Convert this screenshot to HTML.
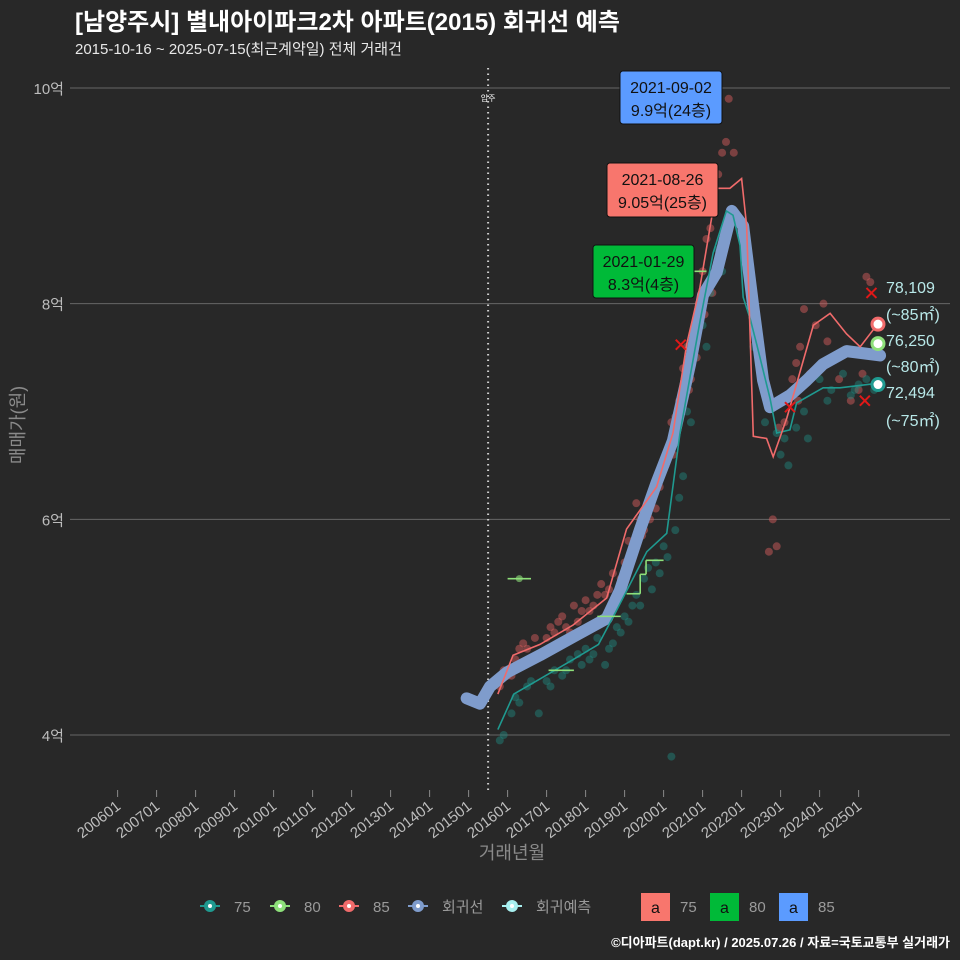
<!DOCTYPE html>
<html><head><meta charset="utf-8">
<style>
html,body{margin:0;padding:0;background:#282828;}
svg{display:block;font-family:"Liberation Sans","Noto Sans CJK KR",sans-serif;}
</style></head>
<body>
<svg id="chart" width="960" height="960" viewBox="0 0 960 960">
<rect x="0" y="0" width="960" height="960" fill="#282828"/>
<text x="75" y="30" font-size="24" font-weight="bold" fill="#ffffff">[남양주시] 별내아이파크2차 아파트(2015) 회귀선 예측</text>
<text x="75" y="54" font-size="15" fill="#e8e8e8">2015-10-16 ~ 2025-07-15(최근계약일) 전체 거래건</text>
<g id="grid"></g>
<g id="xaxis"></g>
<g id="marks"></g>
<text x="24" y="425" font-size="18" fill="#8a8a8a" text-anchor="middle" transform="rotate(-90 24 425)">매매가(원)</text>
<text x="512" y="859" font-size="18" fill="#8a8a8a" text-anchor="middle">거래년월</text>
<g id="legend"></g>
<text x="950" y="947" font-size="13" font-weight="bold" fill="#ffffff" text-anchor="end">©디아파트(dapt.kr) / 2025.07.26 / 자료=국토교통부 실거래가</text>
</svg>
<script>
// ---- data (values in 억) ----
const yTicks = [4, 6, 8, 10];
const yTickLabels = ["4억", "6억", "8억", "10억"];
const xTickYears = [2006,2007,2008,2009,2010,2011,2012,2013,2014,2015,2016,2017,2018,2019,2020,2021,2022,2023,2024,2025];
const xTickLabels = ["200601","200701","200801","200901","201001","201101","201201","201301","201401","201501","201601","201701","201801","201901","202001","202101","202201","202301","202401","202501"];
const moveInYear = 2015.5;

const regT = [2014.95,2015.29,2015.55,2015.98,2016.83,2017.68,2018.54,2018.88,2019.40,2019.82,2020.24,2020.68,2021.01,2021.36,2021.75,2022.04,2022.29,2022.55,2022.73,2023.24,2023.67,2024.09,2024.69,2025.55];
const regV = [4.34,4.29,4.45,4.58,4.74,4.91,5.08,5.34,5.91,6.34,6.73,7.44,8.08,8.29,8.86,8.72,8.00,7.29,7.04,7.15,7.29,7.44,7.56,7.52];

const redT = [2015.75,2016.14,2016.83,2017.68,2018.54,2019.05,2019.82,2020.24,2020.59,2020.93,2021.36,2021.70,2022.00,2022.13,2022.30,2022.64,2022.81,2023.16,2023.50,2023.84,2024.27,2024.69,2025.04,2025.38,2025.48];
const redV = [4.38,4.74,4.84,5.02,5.27,5.91,6.30,6.80,7.62,8.15,9.07,9.07,9.16,8.72,6.77,6.75,6.58,6.94,7.37,7.80,7.91,7.72,7.60,7.76,7.81];

const tealT = [2015.75,2016.16,2016.83,2017.68,2018.33,2018.80,2019.57,2020.08,2020.42,2020.93,2021.27,2021.61,2021.78,2021.96,2022.04,2022.22,2022.39,2022.73,2022.90,2023.24,2023.41,2024.09,2024.52,2025.46];
const tealV = [4.05,4.38,4.52,4.70,4.84,5.16,5.70,5.87,6.80,7.83,8.47,8.86,8.82,8.54,8.06,7.86,7.62,7.12,6.80,6.83,7.08,7.22,7.22,7.26];

const greenStart = [2016.0,2017.05,2018.3,2019.05,2019.4,2019.55,2020.65];
const greenEnd   = [2016.6,2017.7,2018.9,2019.4,2019.55,2020.0,2021.1];
const greenV     = [5.45,4.60,5.10,5.31,5.49,5.62,8.30];

const redDotT = [2015.8,2015.9,2016.1,2016.2,2016.4,2016.5,2016.7,2016.9,2017.1,2017.2,2017.4,2017.5,2017.7,2017.8,2018.0,2018.1,2018.3,2018.4,2018.6,2018.7,2018.9,2019.0,2019.1,2019.3,2019.4,2019.5,2019.6,2019.7,2019.8,2019.9,2020.0,2020.1,2020.2,2020.3,2020.4,2020.5,2020.6,2020.7,2020.8,2020.9,2021.0,2021.1,2021.2,2021.3,2021.4,2021.5,2021.6,2021.67,2021.8,2022.1,2022.7,2022.8,2022.9,2023.1,2023.3,2023.4,2023.5,2023.6,2023.9,2024.1,2024.3,2024.5,2024.8,2025.0,2025.2,2025.3,
  2016.0,2016.3,2016.6,2017.0,2017.3,2017.6,2017.9,2018.2,2018.5,2018.8,2019.05,2019.25,2019.45,2019.65,2019.85,2020.05,2020.25,2020.45,2020.65,2020.85,2021.05,2021.25,2021.45,2022.95,2023.45,2023.75,2024.2,2024.6,2025.1];
const redDotV = [4.45,4.6,4.55,4.7,4.85,4.8,4.9,4.75,5.0,4.95,5.1,5.0,5.2,5.05,5.25,5.15,5.3,5.4,5.35,5.5,5.45,5.6,5.8,6.15,6.0,5.9,6.05,6.2,6.1,6.3,6.5,6.6,6.9,6.95,7.1,7.4,7.6,7.3,7.7,8.0,8.3,8.6,8.7,8.95,9.2,9.4,9.5,9.9,9.4,8.7,5.7,6.0,5.75,6.9,7.3,7.45,7.6,7.95,7.8,8.0,7.5,7.3,7.1,7.2,8.25,8.2,
  4.55,4.8,4.7,4.9,5.05,4.95,5.15,5.2,5.3,5.25,5.5,5.7,5.85,6.0,6.4,6.5,6.6,7.0,7.2,7.5,7.9,8.1,8.4,6.85,7.1,7.35,7.65,7.55,7.35];

const tealDotT = [2015.8,2015.9,2016.1,2016.3,2016.5,2016.8,2017.0,2017.2,2017.4,2017.6,2017.8,2018.0,2018.1,2018.3,2018.5,2018.7,2018.8,2019.0,2019.2,2019.3,2019.5,2019.6,2019.8,2020.0,2020.2,2020.4,2020.6,2020.8,2021.0,2021.2,2021.4,2021.6,2022.3,2022.6,2022.9,2023.0,2023.2,2023.4,2023.7,2024.0,2024.3,2024.6,2024.9,2025.2,2025.4,
  2016.2,2016.6,2017.1,2017.5,2017.9,2018.2,2018.6,2018.9,2019.1,2019.4,2019.7,2019.9,2020.1,2020.3,2020.5,2020.7,2021.1,2021.5,2023.1,2023.6,2024.2,2024.8,2025.0];
const tealDotV = [3.95,4.0,4.2,4.3,4.45,4.2,4.5,4.6,4.55,4.7,4.75,4.8,4.7,4.9,4.65,4.85,5.0,5.1,5.2,5.3,5.45,5.55,5.6,5.75,3.8,6.2,7.0,7.5,7.8,8.1,8.5,8.7,7.6,6.9,6.8,6.6,6.5,6.85,6.75,7.3,7.2,7.35,7.2,7.3,7.2,
  4.35,4.5,4.45,4.6,4.65,4.75,4.8,4.95,5.05,5.2,5.35,5.5,5.65,5.9,6.4,6.9,7.6,8.3,6.75,7.0,7.1,7.15,7.25];

// ---- scales ----
const X = t => 117.6 + (t - 2006) * 39.0;
const Y = v => 735 - (v - 4) * 107.83;
const NS = "http://www.w3.org/2000/svg";
function mk(tag, attrs, parent){
  const e = document.createElementNS(NS, tag);
  for (const k in attrs) e.setAttribute(k, attrs[k]);
  parent.appendChild(e); return e;
}
const grid = document.getElementById('grid');
const xaxis = document.getElementById('xaxis');
const marks = document.getElementById('marks');
const legend = document.getElementById('legend');

yTicks.forEach((v,i)=>{
  const l = mk('line',{x1:70,x2:950,y1:Y(v),y2:Y(v),stroke:'#666',"stroke-width":1},grid);
  
  
  const t = mk('text',{x:64,y:Y(v)+6,"font-size":15,fill:'#bdbdbd',"text-anchor":'end'},grid);
  t.textContent = yTickLabels[i];
  
  
});
xTickYears.forEach((yr,i)=>{
  const x = X(yr);
  const l = mk('line',{x1:x,x2:x,y1:790,y2:797,stroke:'#888',"stroke-width":1},xaxis);
  
  
  const t = mk('text',{x:x+4,y:808,"font-size":15,fill:'#bdbdbd',"text-anchor":'end',transform:`rotate(-38 ${x+4} 808)`},xaxis);
  t.textContent = xTickLabels[i];
  
  
});
const ml = mk('line',{x1:X(moveInYear),x2:X(moveInYear),y1:68,y2:792,stroke:'#cfcfcf',"stroke-width":2,"stroke-dasharray":'1.5 4'},marks);


const mt = mk('text',{x:X(moveInYear),y:101,"font-size":8,fill:'#fff',"text-anchor":'middle'},marks);
mt.textContent='입주';



redDotT.forEach((t,i)=>{
  const c = mk('circle',{cx:X(t),cy:Y(redDotV[i]),r:4,fill:'#e06060',"fill-opacity":0.45},marks);
  
  
});
tealDotT.forEach((t,i)=>{
  const c = mk('circle',{cx:X(t),cy:Y(tealDotV[i]),r:4,fill:'#1f8a80',"fill-opacity":0.45},marks);
  
  
});
function pathFrom(T,V,step){
  let d='';
  T.forEach((t,i)=>{
    if(i===0){ d+=`M${X(t)},${Y(V[i])}`; }
    else if(step){ d+=`H${X(t)}V${Y(V[i])}`; }
    else { d+=`L${X(t)},${Y(V[i])}`; }
  });
  return d;
}
const rg = mk('path',{d:pathFrom(regT,regV,false),fill:'none',stroke:'#7f9ccc',"stroke-width":12,"stroke-linejoin":'round',"stroke-linecap":'round'},marks);


const tl = mk('path',{d:pathFrom(tealT,tealV,false),fill:'none',stroke:'#1f9a90',"stroke-width":1.6},marks);


const rl = mk('path',{d:pathFrom(redT,redV,false),fill:'none',stroke:'#f06b6b',"stroke-width":1.6},marks);


greenStart.forEach((s,i)=>{
  const l = mk('line',{x1:X(s),x2:X(greenEnd[i]),y1:Y(greenV[i]),y2:Y(greenV[i]),stroke:'#8ee07a',"stroke-width":1.6},marks);
  
  
  if(i>0 && Math.abs(greenEnd[i-1]-s)<0.01){
    const v = mk('line',{x1:X(s),x2:X(s),y1:Y(greenV[i-1]),y2:Y(greenV[i]),stroke:'#8ee07a',"stroke-width":1.6},marks);
    
    
  }
});
const gd = mk('circle',{cx:X(2016.3),cy:Y(5.45),r:3.5,fill:'#8ee07a',"fill-opacity":0.6},marks);


const xmT = [2025.33,2025.16,2020.44,2023.24];
const xmV = [8.1,7.1,7.62,7.04];
xmT.forEach((t,i)=>{
  const x=X(t),y=Y(xmV[i]);
  const p = mk('path',{d:`M${x-5},${y-5}L${x+5},${y+5}M${x-5},${y+5}L${x+5},${y-5}`,stroke:'#e01818',"stroke-width":2},marks);
  
  
});
const endV = [7.81,7.63,7.25];
const endC = ['#f06b6b','#8ee07a','#1f9a90'];
endV.forEach((v,i)=>{
  const c = mk('circle',{cx:878,cy:Y(v),r:6,fill:'#ffffff',stroke:endC[i],"stroke-width":3},marks);
  
  
});
const rLabels = ["78,109","(~85㎡)","76,250","(~80㎡)","72,494","(~75㎡)"];
const rY = [293,320,346,372,398,426];
rLabels.forEach((s,i)=>{
  const t = mk('text',{x:886,y:rY[i],"font-size":16,fill:'#b8e8e8'},marks);
  t.textContent=s;
  
  
});
const boxes = [
  {x:620,y:71,w:102,h:53,fill:'#5b9bff',l1:'2021-09-02',l2:'9.9억(24층)',n:'annotation-85-max'},
  {x:607,y:163,w:111,h:54,fill:'#f8766d',l1:'2021-08-26',l2:'9.05억(25층)',n:'annotation-75-max'},
  {x:593,y:245,w:101,h:53,fill:'#00ba38',l1:'2021-01-29',l2:'8.3억(4층)',n:'annotation-80-max'}
];
boxes.forEach(b=>{
  const g = mk('g',{},marks);
  
  
  mk('rect',{x:b.x,y:b.y,width:b.w,height:b.h,rx:3,fill:b.fill,stroke:'#111',"stroke-width":1},g);
  const t1 = mk('text',{x:b.x+b.w/2,y:b.y+22,"font-size":16,fill:'#111',"text-anchor":'middle'},g); t1.textContent=b.l1;
  const t2 = mk('text',{x:b.x+b.w/2,y:b.y+45,"font-size":16,fill:'#111',"text-anchor":'middle'},g); t2.textContent=b.l2;
});
const legItems = [{x:210,c:'#1f9a90',s:'75'},{x:280,c:'#8ee07a',s:'80'},{x:349,c:'#f06b6b',s:'85'},{x:418,c:'#7f9ccc',s:'회귀선'},{x:512,c:'#a8f0f0',s:'회귀예측'}];
legItems.forEach(it=>{
  const g = mk('g',{},legend);
  
  
  mk('line',{x1:it.x-10,x2:it.x+10,y1:906,y2:906,stroke:it.c,"stroke-width":2},g);
  mk('circle',{cx:it.x,cy:906,r:6,fill:it.c},g);
  mk('circle',{cx:it.x,cy:906,r:2,fill:'#fff'},g);
  const t = mk('text',{x:it.x+24,y:912,"font-size":15,fill:'#9a9a9a'},g); t.textContent=it.s;
});
const legBox = [{x:641,c:'#f8766d',s:'75'},{x:710,c:'#00ba38',s:'80'},{x:779,c:'#5b9bff',s:'85'}];
legBox.forEach(it=>{
  const g = mk('g',{},legend);
  
  
  mk('rect',{x:it.x,y:893,width:29,height:28,fill:it.c},g);
  const a = mk('text',{x:it.x+14.5,y:913,"font-size":16,fill:'#111',"text-anchor":'middle'},g); a.textContent='a';
  const t = mk('text',{x:it.x+39,y:912,"font-size":15,fill:'#9a9a9a'},g); t.textContent=it.s;
});
</script>
</body></html>
